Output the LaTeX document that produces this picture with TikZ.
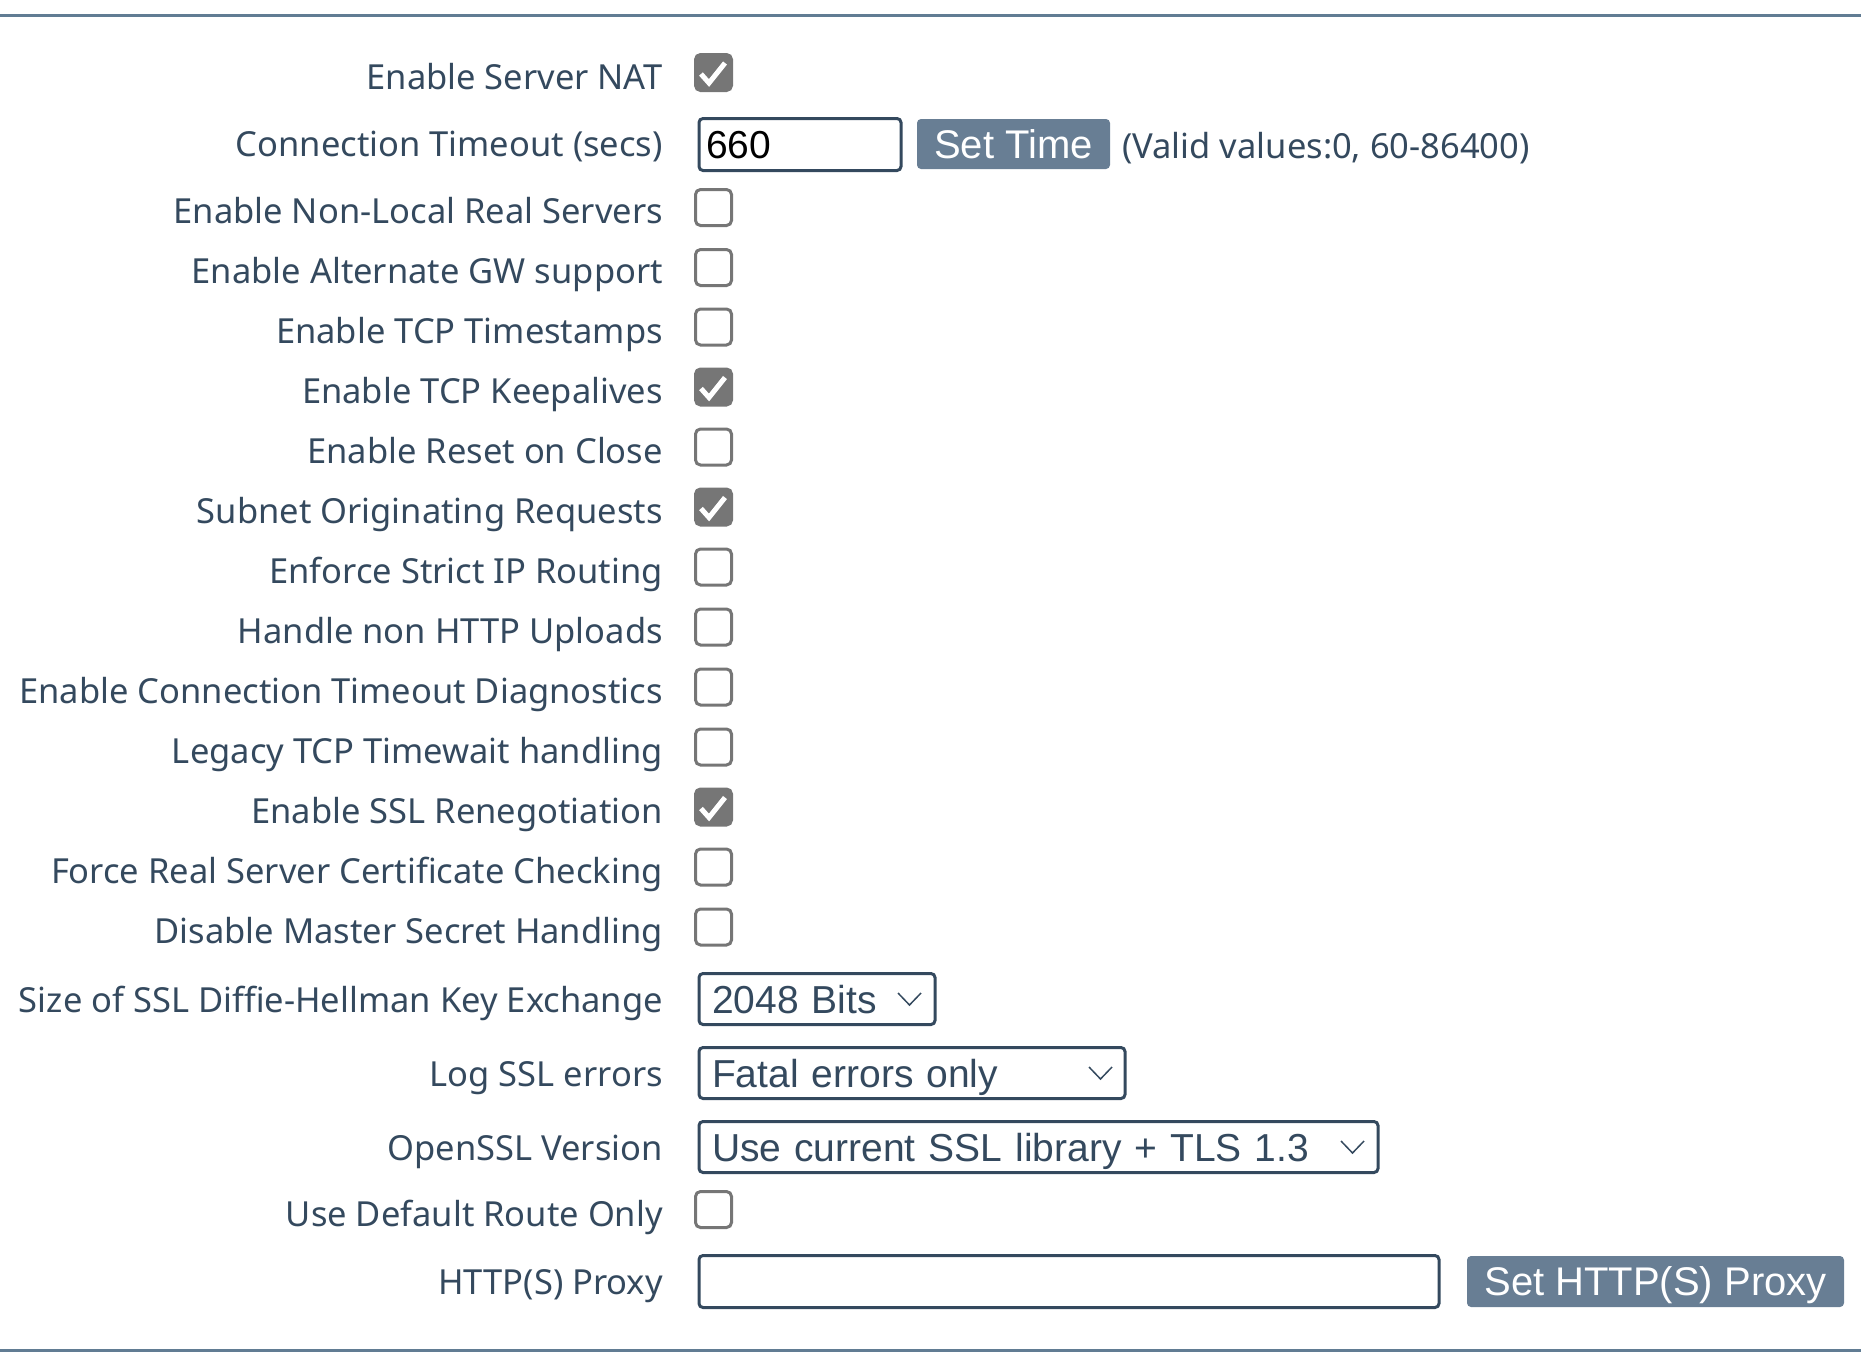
\documentclass[tikz,border=0pt]{standalone}
\usepackage{fontspec}
\setmainfont{Noto Sans}
\newfontfamily\widgetfont{Liberation Sans}
\usetikzlibrary{positioning, calc}
\definecolor{slate}{HTML}{34495E}
\definecolor{boxgray}{HTML}{767676}
\definecolor{btnblue}{HTML}{687E94}
\definecolor{rulecol}{HTML}{617C93}

\tikzset{
  lbl/.style={anchor=base east, inner sep=0pt, text=slate, font=\fontsize{34.5}{40}\selectfont},
  chk/.style={draw=boxgray, line width=3pt, rounded corners=5pt, minimum size=36pt, inner sep=0pt},
  chkon/.style={chk, fill=boxgray},
  tick/.style={draw=white, line width=5pt},
  field/.style={draw=slate, line width=3pt, rounded corners=4pt, anchor=west, inner xsep=7pt,
    minimum height=52pt, align=left, text=black, font=\widgetfont\fontsize{39}{44}\selectfont,
    text height=28pt, text depth=0pt},
  dropbox/.style={field, inner xsep=13pt, minimum height=51pt, text=slate},
  btn/.style={fill=btnblue, rounded corners=4pt, inner sep=0pt, text=white,
    font=\widgetfont\fontsize{40}{44}\selectfont, text height=28pt, text depth=0pt},
  chev/.style={draw=slate, line width=1.5pt},
  rule/.style={draw=rulecol, line width=3pt},
}

\begin{document}
\begin{tikzpicture}[x=1pt, y=-1pt]
  \useasboundingbox (0,0) rectangle (1861,1361);
  \coordinate (topl) at (0,15);
  \coordinate (topr) at (1861,15);
  \coordinate (botl) at (0,1350);
  \coordinate (botr) at (1861,1350);
  \draw[rule] (topl) -- (topr);
  \draw[rule] (botl) -- (botr);

  % labels
  \node[lbl] (lnat) at (663,89) {Enable Server NAT};
  \node[lbl] (ltime) at (663,156) {Connection Timeout (secs)};
  \node[lbl] (lnonlocal) at (663,223) {Enable Non-Local Real Servers};
  \node[lbl] (lgw) at (663,283) {Enable Alternate GW support};
  \node[lbl] (lstamp) at (663,343) {Enable TCP Timestamps};
  \node[lbl] (lkeep) at (663,403) {Enable TCP Keepalives};
  \node[lbl] (lreset) at (663,463) {Enable Reset on Close};
  \node[lbl] (lsubnet) at (663,523) {Subnet Originating Requests};
  \node[lbl] (lstrict) at (663,583) {Enforce Strict IP Routing};
  \node[lbl] (lupload) at (663,643) {Handle non HTTP Uploads};
  \node[lbl] (ldiag) at (663,703) {Enable Connection Timeout Diagnostics};
  \node[lbl] (llegacy) at (663,763) {Legacy TCP Timewait handling};
  \node[lbl] (lreneg) at (663,823) {Enable SSL Renegotiation};
  \node[lbl] (lforce) at (663,883) {Force Real Server Certificate Checking};
  \node[lbl] (lmaster) at (663,943) {Disable Master Secret Handling};
  \node[lbl] (ldh) at (663,1012) {Size of SSL Diffie-Hellman Key Exchange};
  \node[lbl] (llog) at (663,1086) {Log SSL errors};
  \node[lbl] (lopenssl) at (663,1160) {OpenSSL Version};
  \node[lbl] (lroute) at (663,1226) {Use Default Route Only};
  \node[lbl] (lproxy) at (663,1294) {HTTP(S) Proxy};

  % checkboxes
  \node[chkon] (cnat) at (713.5,72.5) {};
  \node[chk] (cnonlocal) at (713.5,207.5) {};
  \node[chk] (cgw) at (713.5,267.5) {};
  \node[chk] (cstamp) at (713.5,327) {};
  \node[chkon] (ckeep) at (713.5,387) {};
  \node[chk] (creset) at (713.5,447) {};
  \node[chkon] (csubnet) at (713.5,507) {};
  \node[chk] (cstrict) at (713.5,567) {};
  \node[chk] (cupload) at (713.5,627) {};
  \node[chk] (cdiag) at (713.5,687) {};
  \node[chk] (clegacy) at (713.5,747) {};
  \node[chkon] (creneg) at (713.5,807) {};
  \node[chk] (cforce) at (713.5,867) {};
  \node[chk] (cmaster) at (713.5,927) {};
  \node[chk] (croute) at (713.5,1209.5) {};

  \draw[tick] ($(cnat.center)+(-12.5,1.5)$) -- ++(8,9) -- ++(16,-20);
  \draw[tick] ($(ckeep.center)+(-12.5,1.5)$) -- ++(8,9) -- ++(16,-20);
  \draw[tick] ($(csubnet.center)+(-12.5,1.5)$) -- ++(8,9) -- ++(16,-20);
  \draw[tick] ($(creneg.center)+(-12.5,1.5)$) -- ++(8,9) -- ++(16,-20);

  % fields and buttons
  \node[field, text width=188pt] (timebox) at (697.5,144.5) {660};
  \node[btn, minimum width=193pt, minimum height=50pt] (settime) at (1013.5,144) {Set Time};
  \node[lbl, anchor=base west] (hint) at (1122,158) {(Valid values:0, 60-86400)};

  \node[dropbox, text width=210pt] (dhbox) at (697.5,999) {2048 Bits};
  \node[dropbox, text width=400pt] (logbox) at (697.5,1073) {Fatal errors only};
  \node[dropbox, text width=653pt] (sslbox) at (697.5,1147) {Use current SSL library + TLS 1.3};
  \draw[chev] ($(dhbox.east)+(-38.5,-6)$) -- ++(11.5,12) -- ++(11.5,-12);
  \draw[chev] ($(logbox.east)+(-37.5,-6)$) -- ++(11.5,12) -- ++(11.5,-12);
  \draw[chev] ($(sslbox.east)+(-38.5,-6)$) -- ++(11.5,12) -- ++(11.5,-12);

  \node[field, text width=726pt] (proxybox) at (697.5,1281.5) {};
  \node[btn, minimum width=377pt, minimum height=51pt] (setproxy) at (1655.5,1281.5) {Set HTTP(S) Proxy};
\end{tikzpicture}
\end{document}
